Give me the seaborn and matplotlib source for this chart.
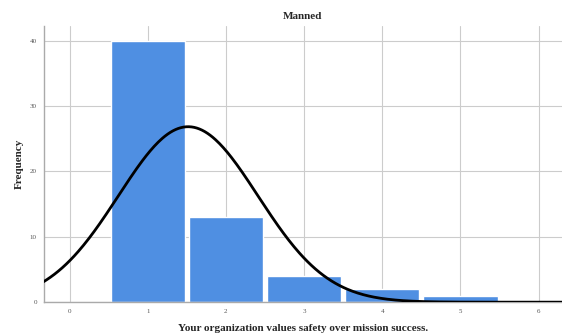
import numpy as np
import pandas as pd
import matplotlib
matplotlib.use("Agg")
import matplotlib.pyplot as plt
import seaborn as sns

# Data
scores = [1, 2, 3, 4, 5]
counts = [40, 13, 4, 2, 1]
xticks = [0, 1, 2, 3, 4, 5, 6]
yticks = [0, 10, 20, 30, 40]

sns.set_style("whitegrid")
plt.rcParams["font.family"] = ["Liberation Serif", "DejaVu Serif"]

fig = plt.figure(figsize=(5.62, 3.35), dpi=100)
ax = fig.add_axes([0.078, 0.098, 0.922, 0.824])

data = pd.DataFrame({"score": scores, "count": counts})
sns.barplot(data=data, x="score", y="count", native_scale=True, width=0.95,
            color="#4F8FE2", saturation=1, ax=ax, zorder=2)

# Normal curve fitted to the frequency data
n = sum(counts)
mean = np.dot(scores, counts) / n
sd = np.sqrt((np.dot(np.square(scores), counts) - n * mean ** 2) / (n - 1))
xs = np.linspace(-0.4, 6.4, 400)
ys = n / (sd * np.sqrt(2 * np.pi)) * np.exp(-0.5 * ((xs - mean) / sd) ** 2)
sns.lineplot(x=xs, y=ys, color="black", linewidth=2, ax=ax, zorder=3)

ax.set_xlim(-0.33, 6.3)
ax.set_ylim(0, 42.2)
ax.set_xticks(xticks)
ax.set_yticks(yticks)
ax.tick_params(labelsize=5, colors="#555555", length=0, pad=5)
ax.grid(True, color="#cccccc", linewidth=0.8)
for side in ["top", "right"]:
    ax.spines[side].set_visible(False)
for side in ["left", "bottom"]:
    ax.spines[side].set_color("#aaaaaa")
    ax.spines[side].set_linewidth(1)

ax.set_title("Manned", fontsize=8, fontweight="bold", pad=5)
ax.set_xlabel("Your organization values safety over mission success.",
              fontsize=8, fontweight="bold", labelpad=7)
ax.set_ylabel("Frequency", fontsize=8, fontweight="bold", labelpad=4)

fig.savefig("out.png", dpi=100)
